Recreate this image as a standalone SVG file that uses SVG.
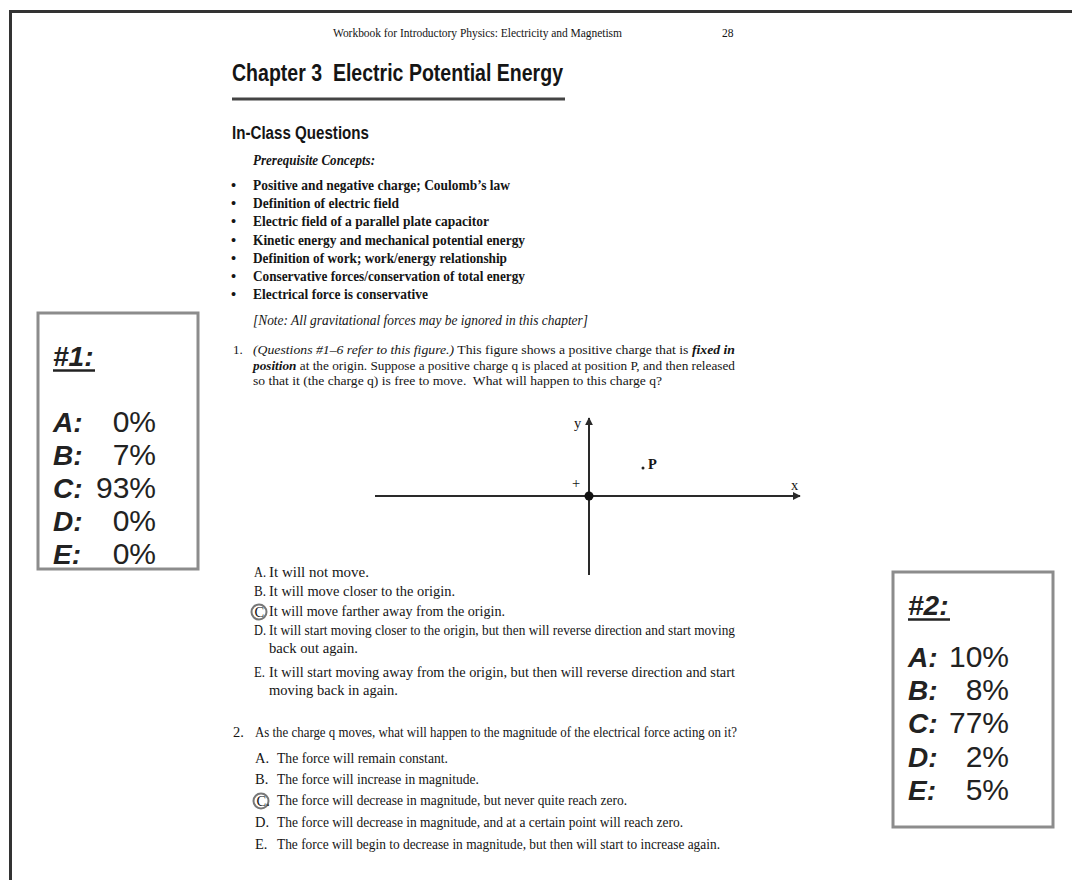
<svg xmlns="http://www.w3.org/2000/svg" width="1072" height="880" viewBox="0 0 1072 880">
<style>
.tm{font-family:"Liberation Serif","Times New Roman",serif;fill:#151515;font-size:14.5px}
.hd{font-size:11.5px}
.sm{font-size:13px}
.b{font-weight:bold}
.i{font-style:italic}
.bi{font-weight:bold;font-style:italic}
.sans{font-family:"Liberation Sans",Arial,sans-serif;fill:#151515}
.box{fill:#fff;stroke:#8c8c8c;stroke-width:3}
.pct{font-family:"Liberation Sans",Arial,sans-serif;fill:#222;font-size:30px}
.lbl{font-weight:bold;font-style:italic;font-size:28px}
.axis{stroke:#2a2a2a;stroke-width:2;fill:none}
.ring{fill:none;stroke:#777;stroke-width:2}
</style>
<defs>
<marker id="ah" viewBox="0 0 10 10" refX="9" refY="5" markerWidth="4" markerHeight="4" orient="auto" markerUnits="strokeWidth">
<path d="M0,0 L10,5 L0,10 Z" fill="#2a2a2a"/>
</marker>
</defs>
<rect x="0" y="0" width="1072" height="880" fill="#fff"/>
<g id="frame">
<line x1="9" y1="11.5" x2="1072" y2="11.5" stroke="#333" stroke-width="3"/>
<line x1="10.5" y1="10" x2="10.5" y2="880" stroke="#333" stroke-width="3"/>
</g>
<g id="header">
<text class="tm hd" x="333" y="37" textLength="289" lengthAdjust="spacing">Workbook for Introductory Physics: Electricity and Magnetism</text>
<text class="tm hd" x="722" y="37">28</text>
<text class="sans b" x="232" y="81" font-size="24.5" textLength="331" lengthAdjust="spacingAndGlyphs">Chapter 3&#160; Electric Potential Energy</text>
<line x1="232" y1="99" x2="565" y2="99" stroke="#444" stroke-width="3"/>
<text class="sans b" x="232" y="139" font-size="17.5" textLength="137" lengthAdjust="spacingAndGlyphs">In-Class Questions</text>
</g>
<g id="prereq">
<text class="tm bi" x="253" y="165" textLength="122" lengthAdjust="spacingAndGlyphs">Prerequisite Concepts:</text>
<g class="tm b">
<text x="231" y="190">•</text><text x="253" y="190" textLength="257" lengthAdjust="spacingAndGlyphs">Positive and negative charge; Coulomb’s law</text>
<text x="231" y="208">•</text><text x="253" y="208" textLength="146" lengthAdjust="spacingAndGlyphs">Definition of electric field</text>
<text x="231" y="226">•</text><text x="253" y="226" textLength="236" lengthAdjust="spacingAndGlyphs">Electric field of a parallel plate capacitor</text>
<text x="231" y="245">•</text><text x="253" y="245" textLength="272" lengthAdjust="spacingAndGlyphs">Kinetic energy and mechanical potential energy</text>
<text x="231" y="263">•</text><text x="253" y="263" textLength="254" lengthAdjust="spacingAndGlyphs">Definition of work; work/energy relationship</text>
<text x="231" y="281">•</text><text x="253" y="281" textLength="272" lengthAdjust="spacingAndGlyphs">Conservative forces/conservation of total energy</text>
<text x="231" y="299">•</text><text x="253" y="299" textLength="175" lengthAdjust="spacingAndGlyphs">Electrical force is conservative</text>
</g>
<text class="tm i" x="253" y="325" textLength="335" lengthAdjust="spacingAndGlyphs">[Note: All gravitational forces may be ignored in this chapter]</text>
</g>
<g id="question1">
<text class="tm sm" x="233" y="354">1.</text>
<text class="tm sm" x="253" y="354" textLength="482" lengthAdjust="spacingAndGlyphs"><tspan class="i">(Questions #1–6 refer to this figure.)</tspan> This figure shows a positive charge that is <tspan class="bi">fixed in</tspan></text>
<text class="tm sm" x="253" y="369.5" textLength="482" lengthAdjust="spacingAndGlyphs"><tspan class="bi">position</tspan> at the origin. Suppose a positive charge q is placed at position P, and then released</text>
<text class="tm sm" x="253" y="385" textLength="409" lengthAdjust="spacingAndGlyphs">so that it (the charge q) is free to move.&#160; What will happen to this charge q?</text>
</g>
<g id="figure">
<line class="axis" x1="375" y1="496" x2="800" y2="496" marker-end="url(#ah)"/>
<line class="axis" x1="589" y1="575" x2="589" y2="418" marker-end="url(#ah)"/>
<circle cx="589" cy="496" r="4.5" fill="#111"/>
<text class="tm" x="572" y="488" font-size="13">+</text>
<text class="tm" x="574" y="428" font-size="13">y</text>
<text class="tm" x="791" y="490" font-size="13">x</text>
<circle cx="643" cy="468" r="1.5" fill="#222"/>
<text class="tm b" x="648" y="469" font-size="13">P</text>
</g>
<g id="q1options">
<text class="tm" x="254" y="577" textLength="12" lengthAdjust="spacingAndGlyphs">A.</text><text class="tm" x="269" y="577" textLength="100" lengthAdjust="spacingAndGlyphs">It will not move.</text>
<text class="tm" x="254" y="596" textLength="12" lengthAdjust="spacingAndGlyphs">B.</text><text class="tm" x="269" y="596" textLength="186" lengthAdjust="spacingAndGlyphs">It will move closer to the origin.</text>
<circle class="ring" cx="259" cy="612" r="7.5"/>
<text class="tm" x="254.5" y="616.5" font-size="12.5">C</text><text class="tm" x="269" y="616" textLength="236" lengthAdjust="spacingAndGlyphs">It will move farther away from the origin.</text>
<text class="tm" x="254" y="635" textLength="12" lengthAdjust="spacingAndGlyphs">D.</text><text class="tm" x="269" y="635" textLength="466" lengthAdjust="spacingAndGlyphs">It will start moving closer to the origin, but then will reverse direction and start moving</text>
<text class="tm" x="269" y="653" textLength="89" lengthAdjust="spacingAndGlyphs">back out again.</text>
<text class="tm" x="254" y="677" textLength="11" lengthAdjust="spacingAndGlyphs">E.</text><text class="tm" x="269" y="677" textLength="466" lengthAdjust="spacingAndGlyphs">It will start moving away from the origin, but then will reverse direction and start</text>
<text class="tm" x="269" y="695" textLength="129" lengthAdjust="spacingAndGlyphs">moving back in again.</text>
</g>
<g id="question2">
<text class="tm" x="233" y="737">2.</text>
<text class="tm" x="255" y="737" textLength="482" lengthAdjust="spacingAndGlyphs">As the charge q moves, what will happen to the magnitude of the electrical force acting on it?</text>
<text class="tm" x="255" y="763">A.</text><text class="tm" x="277" y="763" textLength="171" lengthAdjust="spacingAndGlyphs">The force will remain constant.</text>
<text class="tm" x="255" y="784">B.</text><text class="tm" x="277" y="784" textLength="202" lengthAdjust="spacingAndGlyphs">The force will increase in magnitude.</text>
<circle class="ring" cx="261" cy="801" r="7.5"/>
<text class="tm" x="256.5" y="805.5" font-size="12.5">C.</text><text class="tm" x="277" y="805" textLength="350" lengthAdjust="spacingAndGlyphs">The force will decrease in magnitude, but never quite reach zero.</text>
<text class="tm" x="255" y="827">D.</text><text class="tm" x="277" y="827" textLength="406" lengthAdjust="spacingAndGlyphs">The force will decrease in magnitude, and at a certain point will reach zero.</text>
<text class="tm" x="255" y="849">E.</text><text class="tm" x="277" y="849" textLength="443" lengthAdjust="spacingAndGlyphs">The force will begin to decrease in magnitude, but then will start to increase again.</text>
</g>
<g id="box1">
<rect class="box" x="38" y="313" width="160" height="256"/>
<text class="pct lbl" x="53" y="366">#1:</text>
<line x1="53" y1="370.5" x2="95" y2="370.5" stroke="#222" stroke-width="2.5"/>
<text class="pct lbl" x="53" y="432">A:</text><text class="pct" x="156" y="432" text-anchor="end">0%</text>
<text class="pct lbl" x="53" y="465">B:</text><text class="pct" x="156" y="465" text-anchor="end">7%</text>
<text class="pct lbl" x="53" y="498">C:</text><text class="pct" x="156" y="498" text-anchor="end">93%</text>
<text class="pct lbl" x="53" y="531">D:</text><text class="pct" x="156" y="531" text-anchor="end">0%</text>
<text class="pct lbl" x="53" y="564">E:</text><text class="pct" x="156" y="564" text-anchor="end">0%</text>
</g>
<g id="box2">
<rect class="box" x="893" y="572" width="160" height="255"/>
<text class="pct lbl" x="908" y="615">#2:</text>
<line x1="908" y1="619.5" x2="950" y2="619.5" stroke="#222" stroke-width="2.5"/>
<text class="pct lbl" x="908" y="667">A:</text><text class="pct" x="1009" y="667" text-anchor="end">10%</text>
<text class="pct lbl" x="908" y="700">B:</text><text class="pct" x="1009" y="700" text-anchor="end">8%</text>
<text class="pct lbl" x="908" y="733">C:</text><text class="pct" x="1009" y="733" text-anchor="end">77%</text>
<text class="pct lbl" x="908" y="767">D:</text><text class="pct" x="1009" y="767" text-anchor="end">2%</text>
<text class="pct lbl" x="908" y="800">E:</text><text class="pct" x="1009" y="800" text-anchor="end">5%</text>
</g>
</svg>
